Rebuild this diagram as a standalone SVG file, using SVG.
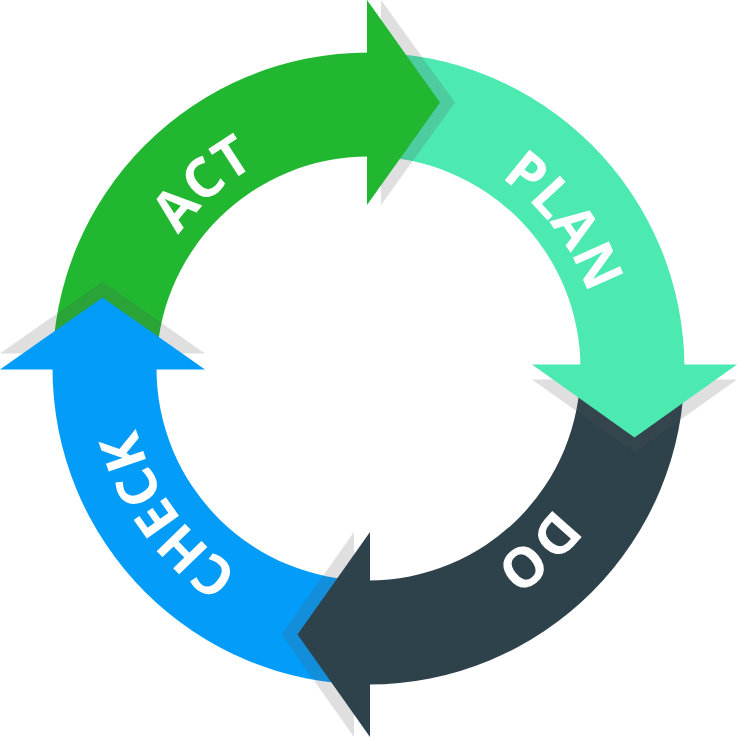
<svg xmlns="http://www.w3.org/2000/svg" width="737" height="737" viewBox="0 0 737 737">
  <defs>
    <style>
      .lbl { fill: #ffffff; font-family: "Open Sans", "Liberation Sans", sans-serif; font-weight: 700; font-size: 55px; }
      .shadow { fill: #555555; fill-opacity: 0.19; }
      .act { fill: #21B731; }
      .plan { fill: #4CE9B0; }
      .do { fill: #2E424C; }
      .check { fill: #039CF9; }
    </style>
    <path id="p-act" d="M 141.6 416.7 A 232 232 0 0 1 440.2 147.8"/>
    <path id="p-plan" d="M 340.2 138.2 A 232 232 0 0 1 582.1 459.1"/>
    <path id="p-do" d="M 594.6 316.3 A 232 232 0 0 1 300.7 590.4"/>
    <path id="p-check" d="M 393.6 607.2 A 240 240 0 0 1 149.3 270.9"/>
  </defs>
  <rect width="737" height="737" fill="#ffffff"/>

  <g id="plan">
    <path class="plan" d="M 368.5 52.5 A 316 316 0 0 1 684.5 368.5 L 580.5 368.5 A 212 212 0 0 0 368.5 156.5 Z"/>
    <text class="lbl"><textPath href="#p-plan" startOffset="50%" text-anchor="middle">PLAN</textPath></text>
  </g>
  <g id="do">
    <path class="do" d="M 684.5 368.5 A 316 316 0 0 1 368.5 684.5 L 368.5 580.5 A 212 212 0 0 0 580.5 368.5 Z"/>
    <text class="lbl"><textPath href="#p-do" startOffset="50%" text-anchor="middle">DO</textPath></text>
  </g>
  <g id="check">
    <path class="check" d="M 368.5 684.5 A 316 316 0 0 1 52.5 368.5 L 156.5 368.5 A 212 212 0 0 0 368.5 580.5 Z"/>
    <text class="lbl"><textPath href="#p-check" startOffset="50%" text-anchor="middle">CHECK</textPath></text>
  </g>
  <g id="act">
    <path class="act" d="M 52.5 368.5 A 316 316 0 0 1 368.5 52.5 L 368.5 156.5 A 212 212 0 0 0 156.5 368.5 Z"/>
    <text class="lbl"><textPath href="#p-act" startOffset="50%" text-anchor="middle">ACT</textPath></text>
  </g>

  <g id="arrowheads">
    <polygon class="shadow" points="381,0 455,102.5 381,205"/>
    <polygon class="shadow" points="532,379.5 737,379.5 634.5,452.5"/>
    <polygon class="shadow" points="354,532 354,737 281.5,634.5"/>
    <polygon class="shadow" points="0,353.5 205,353.5 102.5,281.5"/>
    <polygon id="act-head" class="act" points="367,0 440,102.5 367,205"/>
    <polygon id="plan-head" class="plan" points="532,364.5 737,364.5 634.5,437.5"/>
    <polygon id="do-head" class="do" points="370,532 370,737 297.5,634.5"/>
    <polygon id="check-head" class="check" points="0,369.5 205,369.5 102.5,297.5"/>
  </g>
</svg>
